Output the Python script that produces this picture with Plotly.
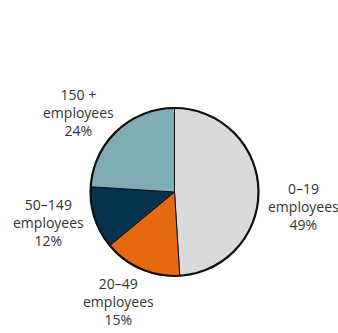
import math
import plotly.graph_objects as go

# Share of companies by headcount band
bands = ["0–19", "20–49", "50–149", "150 +"]
shares = [49, 15, 12, 24]
colors = ["#d9dadc", "#e8680f", "#04324f", "#7eaeb4"]

W, H = 338, 333
CX, CY, R = 174.5, 192.0, 84.0          # disc centre / radius in px (from top-left)
LABEL_GAP = 6                           # distance of label anchor from the rim
# per-label nudges (px) so the text blocks sit like a classic spreadsheet pie
nudges = [(2, -17), (-20, 3), (-3, -3), (3, -16)]

dom_x = [(CX - R) / W, (CX + R) / W]
dom_y = [(H - CY - R) / H, (H - CY + R) / H]

fig = go.Figure(
    go.Pie(
        labels=bands,
        values=shares,
        sort=False,
        direction="clockwise",
        rotation=0,
        marker=dict(colors=colors, line=dict(color="#111111", width=1)),
        textinfo="none",
        hoverinfo="skip",
        showlegend=False,
        domain=dict(x=dom_x, y=dom_y),
    )
)

# heavier outline around the whole disc
fig.add_shape(
    type="circle", xref="paper", yref="paper",
    x0=dom_x[0], x1=dom_x[1], y0=dom_y[0], y1=dom_y[1],
    line=dict(color="#111111", width=2.2),
)

# outside labels placed at each slice's mid-angle
total = sum(shares)
cum = 0
for band, val, (dx, dy) in zip(bands, shares, nudges):
    mid = (cum + val / 2) / total * 2 * math.pi   # clockwise from 12 o'clock
    cum += val
    s, c = math.sin(mid), math.cos(mid)
    px = CX + (R + LABEL_GAP) * s
    py = CY - (R + LABEL_GAP) * c
    xa = "left" if s > 0.3 else ("right" if s < -0.5 else "center")
    ya = "bottom" if c > 0.5 else ("top" if c < -0.5 else "middle")
    fig.add_annotation(
        x=px / W, y=(H - py) / H, xref="paper", yref="paper",
        text=f"{band}<br>employees<br>{val}%",
        showarrow=False, xanchor=xa, yanchor=ya, align="center",
        xshift=dx, yshift=dy,
        font=dict(family="Open Sans", size=14, color="#333333"),
    )

fig.update_layout(
    width=W, height=H,
    margin=dict(l=0, r=0, t=0, b=0),
    paper_bgcolor="white",
    plot_bgcolor="white",
)

fig.write_html("out.html")
